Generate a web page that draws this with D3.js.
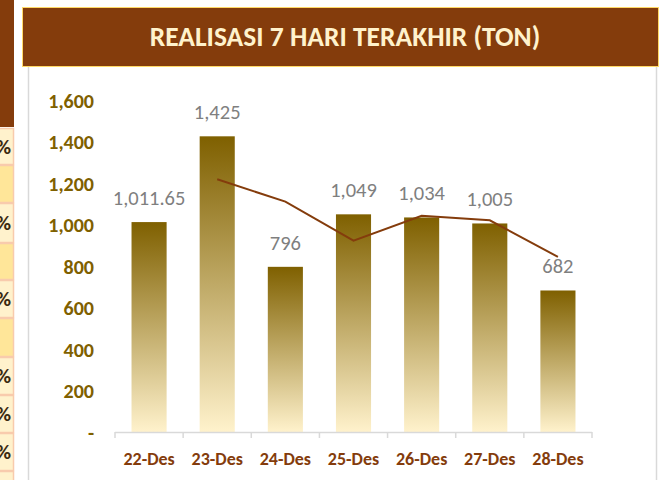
<!DOCTYPE html>
<meta charset="utf-8" />
<style>
  body { margin: 0; background: #fff; }
  text { font-family: Carlito, "Liberation Sans Narrow", Lato, sans-serif; }
  .ylab text { fill: #7f6000; font-weight: bold; font-size: 20px; }
  .xlab text { fill: #843c0c; font-weight: bold; font-size: 18px; }
  .vlabel { fill: #7f7f7f; font-size: 20.5px; }
  .trend { fill: none; stroke: #843c0c; stroke-width: 2px; }
</style>
<body>
  <script src="https://d3js.org/d3.v7.min.js"></script>
  <script>
    // data
    var days = ['22-Des', '23-Des', '24-Des', '25-Des', '26-Des', '27-Des', '28-Des'];
    var realisasi = [1011.65, 1425, 796, 1049, 1034, 1005, 682];
    var labels = ['1,011.65', '1,425', '796', '1,049', '1,034', '1,005', '682'];
    // trend line (starts on the second day)
    var trendDays = ['23-Des', '24-Des', '25-Des', '26-Des', '27-Des', '28-Des'];
    var trendValues = [1218, 1110, 922, 1042, 1020, 844];
    var yTicks = [0, 200, 400, 600, 800, 1000, 1200, 1400, 1600];
    var title = 'REALISASI 7 HARI TERAKHIR (TON)';

    var W = 666, H = 480;
    var plot = { left: 115, right: 592, top: 100, bottom: 432 };

    var svg = d3.select('body').append('svg')
      .attr('width', W)
      .attr('height', H);

    // piece of the neighbouring table on the left
    svg.append('rect').attr('x', 0).attr('y', 0).attr('width', 14).attr('height', 127).attr('fill', '#843c0c');
    var cells = [
      [128, 165, true], [165, 203, false], [203, 243, true], [243, 280, false],
      [280, 318, true], [318, 357, false], [357, 395, true], [395, 433, true],
      [433, 471, true], [471, 490, true]
    ];
    cells.forEach(function(c) {
      svg.append('rect')
        .attr('x', -2).attr('y', c[0] + 0.5)
        .attr('width', 15.5).attr('height', c[1] - c[0] - 1)
        .attr('fill', c[2] ? '#fff2cc' : '#ffe699')
        .attr('stroke', '#f8cbad').attr('stroke-width', 1.5);
      if (c[2] && c[1] < 480) {
        svg.append('text')
          .attr('x', 11).attr('y', (c[0] + c[1]) / 2 + 7)
          .attr('text-anchor', 'end')
          .attr('font-size', 21).attr('font-weight', 'bold')
          .attr('fill', '#3a2a10')
          .text('%');
      }
    });

    // panel frame
    svg.append('line').attr('x1', 28.5).attr('x2', 28.5).attr('y1', 60).attr('y2', H).attr('stroke', '#d9d9d9').attr('stroke-width', 1.5);
    svg.append('line').attr('x1', 656.5).attr('x2', 656.5).attr('y1', 60).attr('y2', H).attr('stroke', '#d9d9d9').attr('stroke-width', 1.5);

    // header
    svg.append('rect')
      .attr('x', 22.5).attr('y', 7.5).attr('width', 636).attr('height', 59)
      .attr('fill', '#843c0c')
      .attr('stroke', '#ffd966').attr('stroke-width', 1);
    svg.append('text')
      .attr('x', 345).attr('y', 46)
      .attr('text-anchor', 'middle')
      .attr('font-size', 27.5).attr('font-weight', 'bold')
      .attr('fill', '#fff2cc')
      .text(title);

    // scales
    var x = d3.scaleBand()
      .domain(days)
      .range([plot.left, plot.right])
      .paddingInner(0.485)
      .paddingOuter(0.2425);
    var y = d3.scaleLinear().domain([0, 1600]).range([plot.bottom, plot.top]);

    // gradient for bars
    var grad = svg.append('defs').append('linearGradient')
      .attr('id', 'barGrad')
      .attr('x1', 0).attr('y1', 0).attr('x2', 0).attr('y2', 1);
    grad.append('stop').attr('offset', '0%').attr('stop-color', '#7f6000');
    grad.append('stop').attr('offset', '100%').attr('stop-color', '#fff2cc');

    // y axis labels
    svg.append('g')
      .attr('class', 'ylab')
      .attr('transform', 'translate(94,0)')
      .call(d3.axisLeft(y).tickValues(yTicks).tickSize(0).tickPadding(0)
        .tickFormat(function(d) { return d === 0 ? '-' : d3.format(',')(d); }))
      .call(function(g) { g.select('.domain').remove(); })
      .selectAll('text').attr('dy', '0.35em');

    // bars
    svg.selectAll('.bar')
      .data(realisasi)
      .enter().append('rect')
      .attr('class', 'bar')
      .attr('x', function(d, i) { return x(days[i]); })
      .attr('y', function(d) { return y(d); })
      .attr('width', x.bandwidth())
      .attr('height', function(d) { return y(0) - y(d); })
      .attr('fill', 'url(#barGrad)');

    // x axis line with ticks between categories
    var step = x.step();
    var start = x(days[0]) - step * x.paddingOuter();
    var boundaries = d3.range(days.length + 1).map(function(i) { return start + i * step; });
    svg.append('line')
      .attr('x1', boundaries[0]).attr('x2', boundaries[days.length])
      .attr('y1', y(0) + 0.5).attr('y2', y(0) + 0.5)
      .attr('stroke', '#d9d9d9').attr('stroke-width', 1.5);
    svg.selectAll('.tickb')
      .data(boundaries)
      .enter().append('line')
      .attr('x1', function(d) { return d; }).attr('x2', function(d) { return d; })
      .attr('y1', y(0)).attr('y2', y(0) + 6)
      .attr('stroke', '#d9d9d9').attr('stroke-width', 1.5);

    svg.append('g')
      .attr('class', 'xlab')
      .attr('transform', 'translate(0,' + y(0) + ')')
      .call(d3.axisBottom(x).tickSize(0).tickPadding(20))
      .call(function(g) { g.select('.domain').remove(); });

    // trend line
    var line = d3.line()
      .x(function(d, i) { return x(trendDays[i]) + x.bandwidth() / 2; })
      .y(function(d) { return y(d); });
    svg.append('path')
      .datum(trendValues)
      .attr('class', 'trend')
      .attr('d', line);

    // value labels
    svg.selectAll('.vlabel')
      .data(realisasi)
      .enter().append('text')
      .attr('class', 'vlabel')
      .attr('x', function(d, i) { return x(days[i]) + x.bandwidth() / 2; })
      .attr('y', function(d) { return y(d) - 17; })
      .attr('text-anchor', 'middle')
      .text(function(d, i) { return labels[i]; });
  </script>
</body>
